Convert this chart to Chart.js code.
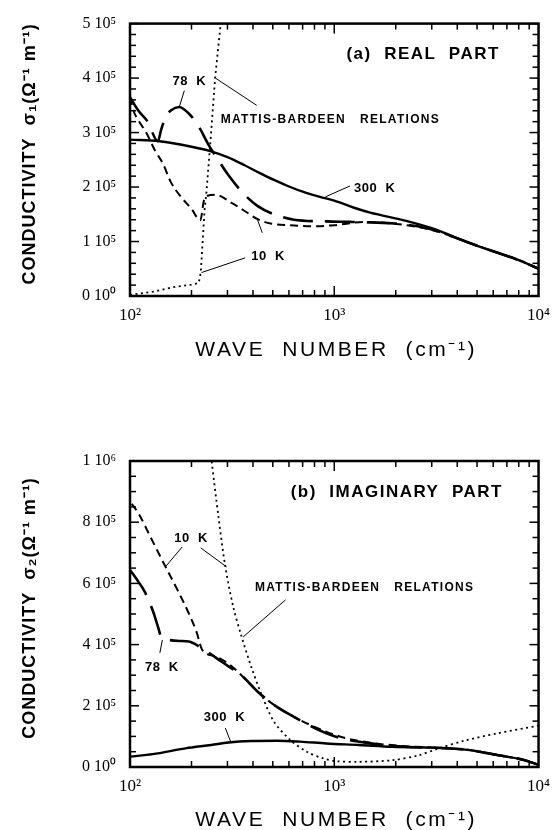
<!DOCTYPE html>
<html>
<head>
<meta charset="utf-8">
<script src="https://cdn.jsdelivr.net/npm/chart.js@4.4.1/dist/chart.umd.min.js"></script>
<style>
  html, body { margin: 0; padding: 0; background: #fff; }
  body { width: 559px; height: 830px; overflow: hidden; position: relative; }
  .box { position: absolute; left: 0; width: 559px; height: 415px; }
</style>
</head>
<body>
<div class="box" style="top:0"><canvas id="c1" width="559" height="415"></canvas></div>
<div class="box" style="top:415px"><canvas id="c2" width="559" height="415"></canvas></div>
<script>
// ---------- axis ticks ----------
const xTickValues = [100, 1000, 10000];
const xTickLabels = ['10²', '10³', '10⁴'];
const yTickValuesA = [0, 100000, 200000, 300000, 400000, 500000];
const yTickLabelsA = ['0 10⁰', '1 10⁵', '2 10⁵', '3 10⁵', '4 10⁵', '5 10⁵'];
const yTickValuesB = [0, 200000, 400000, 600000, 800000, 1000000];
const yTickLabelsB = ['0 10⁰', '2 10⁵', '4 10⁵', '6 10⁵', '8 10⁵', '1 10⁶'];

// ---------- (a) real part ----------
const wn300a = [100, 139, 200, 247, 300, 364, 430, 507, 600, 706, 850, 1000, 1250, 1500, 2250, 3150, 4400, 6000, 8000, 10000];
const sig300a = [287000, 284000, 274000, 266000, 255000, 240000, 226000, 213000, 201000, 191000, 182000, 175000, 162000, 153000, 138000, 122000, 100000, 82000, 66000, 50000];
const wn78a = [100, 110, 122, 137, 142, 150, 159, 174, 194, 217, 242, 271, 303, 357, 422, 507, 635, 915, 1200, 1500, 2000, 2800, 3300, 4400, 6000, 8000, 10000];
const sig78a = [365000, 340000, 320000, 284000, 305000, 330000, 341000, 347000, 335000, 311000, 278000, 249000, 222000, 189000, 165000, 150000, 140000, 137000, 136000, 135000, 133000, 125000, 117000, 100000, 82000, 66000, 50000];
const wn10a = [100, 104, 111, 120, 133, 145, 158, 175, 200, 221, 230, 240, 261, 314, 364, 422, 489, 610, 820, 1000, 1430, 1935, 2800, 3300, 4400, 6000, 8000, 10000];
const sig10a = [365000, 340000, 320000, 300000, 266000, 243000, 210000, 185000, 160000, 139000, 175000, 184000, 186000, 171000, 156000, 141000, 133000, 130000, 128000, 130000, 136000, 133000, 124000, 117000, 100000, 82000, 66000, 50000];
const wnMBa = [100, 130, 167, 200, 217, 222, 232, 236, 247, 261, 278, 283];
const sigMBa = [2000, 8000, 17000, 21000, 24000, 43000, 160000, 185000, 278000, 400000, 500000, 530000];

// ---------- (b) imaginary part ----------
const wn300b = [100, 129, 187, 250, 303, 392, 526, 681, 915, 1325, 1920, 3106, 4505, 6290, 8460, 10000];
const sig300b = [34000, 42000, 61000, 72000, 80000, 85000, 86000, 83000, 77000, 72000, 66000, 63000, 56000, 39000, 23000, 7000];
const wn78b = [100, 110, 118, 129, 137, 142, 156, 175, 194, 225, 281, 357, 422, 507, 634, 915, 1143, 1596, 2227, 3107, 4505, 6290, 8460, 10000];
const sig78b = [644000, 605000, 573000, 513000, 459000, 426000, 415000, 412000, 410000, 388000, 344000, 295000, 246000, 203000, 164000, 110000, 90000, 75000, 66000, 63000, 56000, 39000, 23000, 7000];
const wn10b = [102, 110, 127, 149, 171, 194, 212, 226, 261, 303, 357, 422, 507, 634, 915, 1143, 1596, 2227, 3107, 4505, 6290, 8460, 10000];
const sig10b = [860000, 829000, 747000, 655000, 578000, 502000, 440000, 382000, 362000, 338000, 295000, 246000, 203000, 164000, 115000, 94000, 77000, 68000, 63000, 56000, 39000, 23000, 7000];
const wnMBb = [245, 251, 271, 292, 320, 350, 392, 438, 507, 610, 733, 883, 1023, 1325, 1920, 2580, 3220, 4340, 6280, 10000];
const sigMBb = [1070000, 1000000, 818000, 660000, 524000, 431000, 328000, 241000, 148000, 88000, 50000, 28000, 19000, 17000, 22000, 38000, 60000, 86000, 110000, 135000];

const pts = (xs, ys) => xs.map((x, i) => ({ x: x, y: ys[i] }));

// annotation labels and leader lines (in data coordinates)
const annotA = {
  texts: [
    { t: '(a)  REAL  PART', x: 2723, y: 443000, align: 'center', size: 17, ls: 1.5 },
    { t: 'MATTIS-BARDEEN   RELATIONS', x: 278, y: 323000, align: 'left', size: 12, ls: 1.3 },
    { t: '78  K', x: 195, y: 393000, align: 'center', size: 13, ls: 0.5 },
    { t: '10  K', x: 474, y: 73000, align: 'center', size: 13, ls: 0.5 },
    { t: '300  K', x: 1250, y: 198000, align: 'left', size: 13, ls: 0.5 }
  ],
  lines: [
    [[184.5, 377000], [174, 346000]],
    [[444, 116000], [420, 141000]],
    [[366, 70000], [224, 43000]],
    [[262, 400000], [417, 350000]],
    [[1194, 202000], [905, 182000]]
  ]
};
const annotB = {
  texts: [
    { t: '(b)  IMAGINARY  PART', x: 2023, y: 899000, align: 'center', size: 17, ls: 1.5 },
    { t: '10  K', x: 199, y: 748000, align: 'center', size: 13, ls: 0.5 },
    { t: 'MATTIS-BARDEEN   RELATIONS', x: 409, y: 585000, align: 'left', size: 12, ls: 1.3 },
    { t: '78  K', x: 143, y: 324000, align: 'center', size: 13, ls: 0.5 },
    { t: '300  K', x: 290, y: 163000, align: 'center', size: 13, ls: 0.5 }
  ],
  lines: [
    [[180, 719000], [149, 654000]],
    [[222, 716000], [297, 654000]],
    [[577, 546000], [358, 425000]],
    [[140, 373000], [144, 415000]],
    [[293, 127000], [313, 78000]]
  ]
};

const framePlugin = {
  id: 'frame',
  afterDatasetsDraw(chart, args, o) {
    const ctx = chart.ctx, a = chart.chartArea, x = chart.scales.x, y = chart.scales.y;
    ctx.save();
    ctx.strokeStyle = '#000';
    ctx.fillStyle = '#000';
    const seg = (x1, y1, x2, y2) => { ctx.beginPath(); ctx.moveTo(x1, y1); ctx.lineTo(x2, y2); ctx.stroke(); };
    // x tick marks (inward, top & bottom)
    ctx.lineWidth = 1.5;
    for (let d = 2; d < 4; d++) {
      for (let m = 1; m <= 9; m++) {
        const px = x.getPixelForValue(m * Math.pow(10, d));
        const L = m === 1 ? 10 : 6;
        seg(px, a.bottom, px, a.bottom - L);
        seg(px, a.top, px, a.top + L);
      }
    }
    // y tick marks (inward, left & right)
    const n = Math.round(o.ymax / o.minor);
    for (let i = 0; i <= n; i++) {
      const v = i * o.minor;
      const py = y.getPixelForValue(v);
      const L = (Math.round(v) % o.major === 0) ? 9 : 6;
      seg(a.left, py, a.left + L, py);
      seg(a.right, py, a.right - L, py);
    }
    // frame
    ctx.lineWidth = 2.5;
    ctx.strokeRect(a.left, a.top, a.right - a.left, a.bottom - a.top);

    // annotations
    ctx.lineWidth = 1;
    o.annot.lines.forEach(l => {
      seg(x.getPixelForValue(l[0][0]), y.getPixelForValue(l[0][1]), x.getPixelForValue(l[1][0]), y.getPixelForValue(l[1][1]));
    });
    ctx.textBaseline = 'middle';
    o.annot.texts.forEach(t => {
      ctx.font = 'bold ' + t.size + 'px "Liberation Sans", Arial, sans-serif';
      ctx.letterSpacing = t.ls + 'px';
      ctx.textAlign = t.align;
      ctx.fillText(t.t, x.getPixelForValue(t.x), y.getPixelForValue(t.y));
    });

    // axis titles
    ctx.font = '21px "Liberation Sans", Arial, sans-serif';
    ctx.letterSpacing = '2.6px';
    ctx.textAlign = 'center';
    ctx.fillText('WAVE  NUMBER  (cm⁻¹)', (a.left + a.right) / 2 + 2, o.xTitleY);

    ctx.translate(30, (a.top + a.bottom) / 2 + o.yTitleShift);
    ctx.rotate(-Math.PI / 2);
    ctx.font = 'bold 18px "Liberation Sans", Arial, sans-serif';
    ctx.letterSpacing = '1px';
    ctx.fillText(o.yTitle, 0, 0);
    ctx.restore();
  }
};

function makeChart(id, cfg) {
  return new Chart(document.getElementById(id), {
    type: 'line',
    data: {
      datasets: [
        { data: pts(cfg.w300, cfg.s300), borderColor: '#000', borderWidth: 2.4, pointRadius: 0, cubicInterpolationMode: 'monotone', fill: false },
        { data: pts(cfg.w78, cfg.s78), borderColor: '#000', borderWidth: 2.6, borderDash: [30, 12], pointRadius: 0, cubicInterpolationMode: 'monotone', fill: false },
        { data: pts(cfg.w10, cfg.s10), borderColor: '#000', borderWidth: 2, borderDash: [8, 5], pointRadius: 0, cubicInterpolationMode: 'monotone', fill: false },
        { data: pts(cfg.wMB, cfg.sMB), borderColor: '#000', borderWidth: 1.8, borderDash: [2, 3.5], pointRadius: 0, tension: cfg.mbTension, fill: false }
      ]
    },
    options: {
      responsive: false,
      animation: false,
      devicePixelRatio: 1,
      layout: { padding: { top: cfg.padTop, right: cfg.padRight, left: 0, bottom: 0 } },
      plugins: {
        legend: { display: false },
        tooltip: { enabled: false },
        frame: { ymax: cfg.ymax, minor: cfg.minor, major: cfg.major, annot: cfg.annot, xTitleY: cfg.xTitleY, yTitle: cfg.yTitle, yTitleShift: cfg.yTitleShift }
      },
      scales: {
        x: {
          type: 'logarithmic', min: 100, max: 10000,
          grid: { display: false, drawTicks: false },
          border: { display: false },
          afterBuildTicks: s => { s.ticks = xTickValues.map(v => ({ value: v })); },
          afterFit: s => { s.height = cfg.xAxisH; },
          ticks: {
            autoSkip: false, maxRotation: 0, padding: 9, color: '#000',
            font: { family: '"Liberation Serif", "Times New Roman", serif', size: 17 },
            callback: v => { const i = xTickValues.indexOf(v); return i >= 0 ? xTickLabels[i] : ''; }
          }
        },
        y: {
          type: 'linear', min: 0, max: cfg.ymax,
          grid: { display: false, drawTicks: false },
          border: { display: false },
          afterBuildTicks: s => { s.ticks = cfg.yVals.map(v => ({ value: v })); },
          afterFit: s => { s.width = 130; },
          ticks: {
            autoSkip: false, padding: 14, color: '#000',
            font: { family: '"Liberation Serif", "Times New Roman", serif', size: 16 },
            callback: v => { const i = cfg.yVals.indexOf(v); return i >= 0 ? cfg.yLabels[i] : ''; }
          }
        }
      }
    },
    plugins: [framePlugin]
  });
}

makeChart('c1', {
  w300: wn300a, s300: sig300a, w78: wn78a, s78: sig78a, w10: wn10a, s10: sig10a, wMB: wnMBa, sMB: sigMBa,
  mbTension: 0, ymax: 500000, minor: 20000, major: 100000, yVals: yTickValuesA, yLabels: yTickLabelsA,
  padTop: 16, padRight: 15, xAxisH: 119, xTitleY: 350, annot: annotA,
  yTitle: 'CONDUCTIVITY  σ₁(Ω⁻¹ m⁻¹)', yTitleShift: -6
});
makeChart('c2', {
  w300: wn300b, s300: sig300b, w78: wn78b, s78: sig78b, w10: wn10b, s10: sig10b, wMB: wnMBb, sMB: sigMBb,
  mbTension: 0.3, ymax: 1000000, minor: 50000, major: 200000, yVals: yTickValuesB, yLabels: yTickLabelsB,
  padTop: 46, padRight: 14, xAxisH: 63, xTitleY: 405, annot: annotB,
  yTitle: 'CONDUCTIVITY  σ₂(Ω⁻¹ m⁻¹)', yTitleShift: -6
});
</script>
</body>
</html>
